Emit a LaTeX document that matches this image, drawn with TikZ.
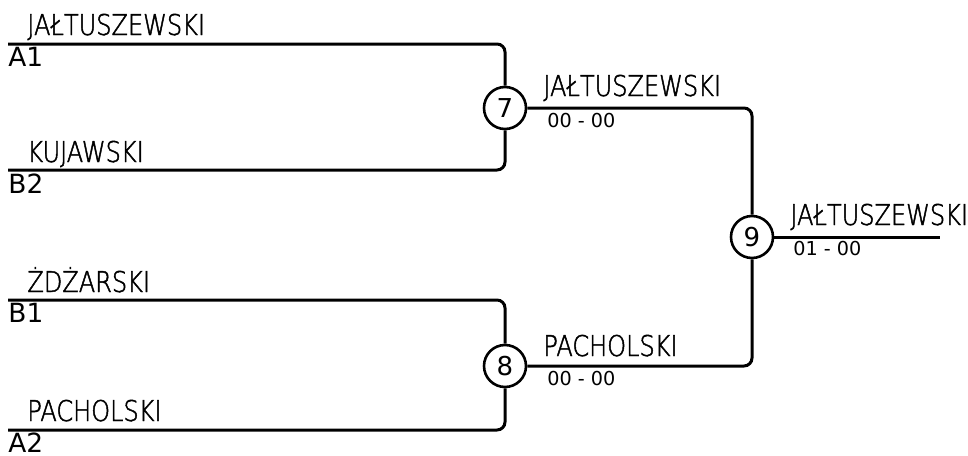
\documentclass[tikz,border=0pt]{standalone}
\usepackage{fontspec}
\setmainfont{DejaVu Sans}
\newfontfamily\namefont{DejaVu Sans ExtraLight}[FakeStretch=0.84,FakeBold=1.6]
\usetikzlibrary{calc}

\tikzset{
  wire/.style = {line width=1.5pt, rounded corners=4pt},
  game/.style = {circle, draw, line width=1.3pt, fill=white, minimum size=21pt,
                 inner sep=0pt, font=\fontsize{13}{13}\selectfont},
  player/.style = {anchor=base west, inner sep=0pt, font=\namefont\fontsize{14.3}{14}\selectfont},
  seed/.style = {anchor=base west, inner sep=0pt, font=\fontsize{13.2}{13}\selectfont},
  score/.style = {anchor=base west, inner sep=0pt, font=\fontsize{9.6}{10}\selectfont}
}

\begin{document}
\begin{tikzpicture}[x=0.5pt, y=-0.5pt]
\useasboundingbox (0,0) rectangle (968,455);
% first round
\coordinate (a1) at (8,44);
\coordinate (b2) at (8,170);
\coordinate (b1) at (8,300);
\coordinate (a2) at (8,430);
\node [player] (p1) at (27,35) {JAŁTUSZEWSKI};
\node [seed] (s1) at (8,66) {A1};
\node [player] (p2) at (27,162) {KUJAWSKI};
\node [seed] (s2) at (8,193) {B2};
\node [player] (p3) at (27,292) {ŻDŻARSKI};
\node [seed] (s3) at (8,322) {B1};
\node [player] (p4) at (27,421) {PACHOLSKI};
\node [seed] (s4) at (8,452) {A2};
% games
\node [game] (m7) at (505,108) {7};
\node [game] (m8) at (505,366) {8};
\node [game] (m9) at (752,237) {9};
\coordinate (win) at (940,237);
\draw [wire] (a1) -| (m7.north);
\draw [wire] (b2) -| (m7.south);
\draw [wire] (b1) -| (m8.north);
\draw [wire] (a2) -| (m8.south);
\draw [wire] (m7.east) -| (m9.north);
\draw [wire] (m8.east) -| (m9.south);
\draw [wire] (m9.east) -- (win);
% results
\node [player] (w7) at (543,96) {JAŁTUSZEWSKI};
\node [score] (r7) at (547,127) {00 - 00};
\node [player] (w8) at (543,356) {PACHOLSKI};
\node [score] (r8) at (547,385) {00 - 00};
\node [player] (w9) at (790,225) {JAŁTUSZEWSKI};
\node [score] (r9) at (793,255) {01 - 00};
\end{tikzpicture}
\end{document}
